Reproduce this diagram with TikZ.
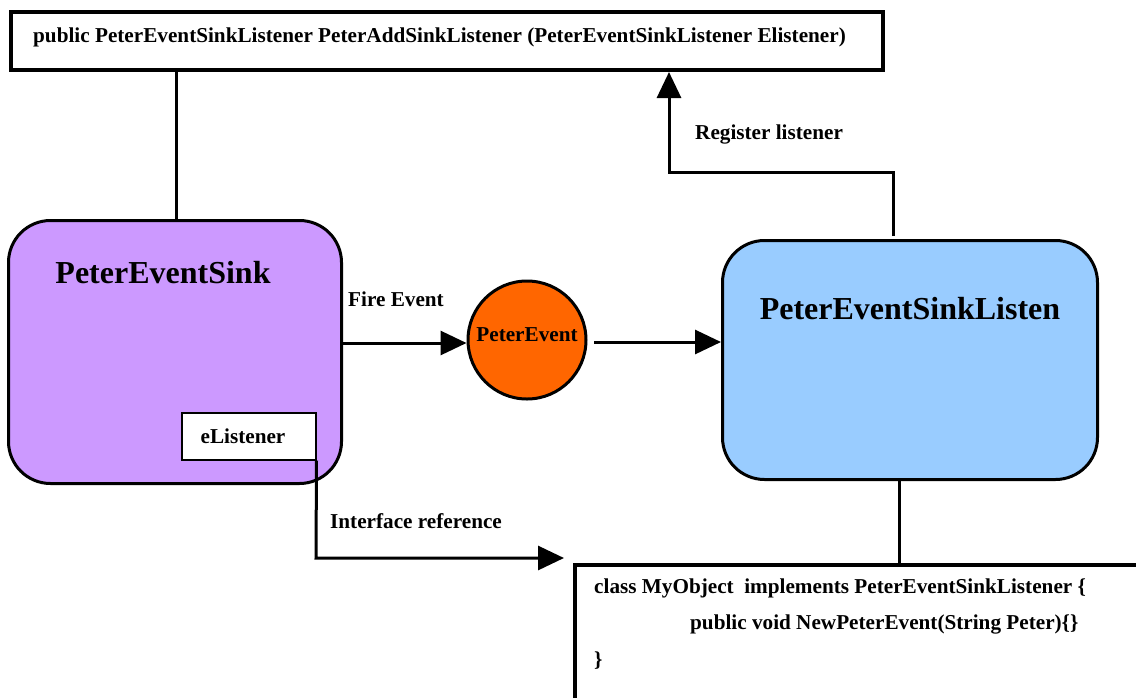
\documentclass[tikz,border=0pt]{standalone}
\usepackage{fontspec}
\setmainfont{Liberation Serif}
\usetikzlibrary{arrows.meta}
\begin{document}
\begin{tikzpicture}[x=1pt,y=-1pt,
  lbl/.style={font=\fontsize{21.2}{24}\selectfont\bfseries, inner sep=0pt},
  big/.style={font=\fontsize{32}{36}\selectfont\bfseries, inner sep=0pt},
  wire/.style={line width=3pt},
  arr/.style={wire, -{Triangle[length=26pt,width=24pt]}},
  rbox/.style={draw, line width=3pt, rounded corners=42pt}]
\clip (0,0) rectangle (1136,697);
\useasboundingbox (0,0) rectangle (1136,697);
\fill[white] (0,0) rectangle (1136,697);

% method signature box
\node[draw, line width=4pt, minimum width=872pt, minimum height=58pt, inner sep=0pt]
  (sig) at (447,41) {};
\node[lbl, anchor=west] (sigtxt) at (33,37)
  {public PeterEventSinkListener PeterAddSinkListener (PeterEventSinkListener Elistener)};

% event source
\node[rbox, fill={rgb,255:red,204;green,153;blue,255}, minimum width=333pt, minimum height=263pt]
  (sink) at (175,352) {};
\node[big] (sinktxt) at (163,273) {PeterEventSink};
\node[draw, line width=2pt, fill=white, minimum width=134pt, minimum height=47pt, inner sep=0pt]
  (el) at (248.5,436) {};
\node[lbl] (eltxt) at (243,436) {eListener};

% event object
\node[circle, draw, line width=3pt, fill={rgb,255:red,255;green,102;blue,0},
  minimum size=118pt, inner sep=0pt] (ev) at (527,340) {};
\node[lbl] (evtxt) at (527,335) {PeterEvent};

% listener
\node[rbox, fill={rgb,255:red,153;green,204;blue,255}, minimum width=375pt, minimum height=239pt]
  (lis) at (910,360) {};
\node[big] (listxt) at (910,309) {PeterEventSinkListen};

% implementing class
\node[draw, line width=4pt, anchor=north west, minimum width=600pt, minimum height=200pt, inner sep=0pt]
  (cls) at (573,563) {};
\node[lbl, anchor=west] (c1) at (594,588) {class MyObject\ \ implements PeterEventSinkListener \{};
\node[lbl, anchor=west] (c2) at (690,624) {public void NewPeterEvent(String Peter)\{\}};
\node[lbl, anchor=west] (c3) at (594,661) {\}};

% connectors
\draw[wire] (sig.south -| 176,0) -- (sink.north -| 176,0);
\draw[arr] (sink.east |- 0,343) -- (ev.west |- 0,343);
\node[lbl, anchor=west] (fire) at (348,299) {Fire Event};
\draw[arr] (594,342) -- (lis.west |- 0,342);

\coordinate (r1) at (893,236);
\coordinate (r2) at (893,172);
\coordinate (r3) at (669,172);
\draw[arr] (r1) -- (r2) -- (r3) -- (sig.south -| r3);
\node[lbl, anchor=west] (reg) at (695,134) {Register listener};

\draw[wire] (lis.south -| 899,0) -- (cls.north -| 899,0);

\coordinate (i1) at (316,558);
\draw[arr, shorten >=9pt] (el.south east) -- (i1) -- (cls.west |- i1);
\node[lbl, anchor=west] (ifr) at (330,521) {Interface reference};
\end{tikzpicture}
\end{document}
